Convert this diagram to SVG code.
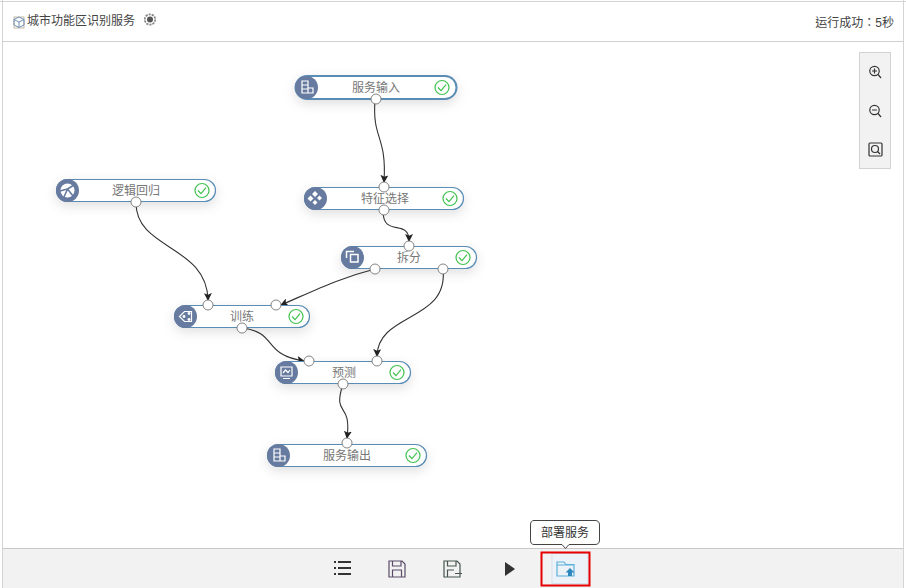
<svg xmlns="http://www.w3.org/2000/svg" width="906" height="588" viewBox="0 0 906 588">
<defs>
<filter id="sh" x="-20%" y="-60%" width="140%" height="260%"><feDropShadow dx="0" dy="4" stdDeviation="6" flood-color="#000" flood-opacity="0.12"/></filter>
<marker id="arr" markerWidth="8" markerHeight="8" refX="7" refY="4" orient="auto" markerUnits="userSpaceOnUse"><path d="M0 0L8 4L0 8L1.800 4Z" fill="#222"/></marker>
<g id="chk"><circle r="7" fill="#fff" stroke="#3fc24f" stroke-width="1.2"/><path d="M-4 0L-1 3.200L4 -2.800" fill="none" stroke="#3fc24f" stroke-width="1.200"/></g>
</defs>
<style>
text{font-family:"Liberation Sans","Noto Sans CJK SC",sans-serif}
.b{fill:#fff;stroke:#5a8db5;stroke-width:1.2;filter:url(#sh)}
.ic{fill:#667b9f}
.g{fill:none;stroke:#fff;stroke-width:1.2}
.gf{fill:#fff}
.l{font-size:12px;fill:#777;text-anchor:middle}
.p{fill:#fff;stroke:#777;stroke-width:.9}
.c{fill:none;stroke:#333;stroke-width:1.1;marker-end:url(#arr)}
.t{fill:none;stroke:#333;stroke-width:1.2}
</style>
<rect width="906" height="588" fill="#fff"/>
<path d="M0 1.500H906M2.500 0V588M903.500 0V588" fill="none" stroke="#d4d4d4"/>
<path d="M2 41.500H904" stroke="#d0d0d0"/>
<g id="header">
<rect x="14" y="17" width="10" height="11" fill="none" stroke="#b9a88f" stroke-width=".8"/>
<path d="M19 17L24 19.500V25L19 27.500L14 25V19.500ZM14 19.500L19 22L24 19.500M19 22V27.500" fill="none" stroke="#6d8fb8"/>
<text x="27" y="25" font-size="12" fill="#444">城市功能区识别服务</text>
<circle cx="150" cy="19.500" r="3" fill="#555"/><circle cx="150" cy="19.500" r="5.200" fill="none" stroke="#888" stroke-width="1.800" stroke-dasharray="2.200 1"/>
<text x="894" y="27" font-size="12" fill="#444" text-anchor="end" style="font-family:'Liberation Sans','Noto Sans CJK TC',sans-serif">运行成功：5秒</text>
</g>
<g id="zoom-tools">
<rect x="859.500" y="52.500" width="31" height="116" fill="#f2f2f2" stroke="#d2d2d2"/>
<g class="t"><circle cx="874.500" cy="71" r="4.700"/><path d="M878 74.500L881 78M872 71H877M874.500 68.500V73.500"/>
<circle cx="874.500" cy="110" r="4.700"/><path d="M878 113.500L881 117M872 110H877"/>
<rect x="869" y="143" width="13" height="13" rx="1"/><circle cx="875" cy="149" r="3.500"/><path d="M877.500 151.500L880 154"/></g>
</g>
<g id="connectors">
<path class="c" d="M375 100C372 140 387 135 384 182"/>
<path class="c" d="M383 211C383 238 409 218 409 241"/>
<path class="c" d="M136 203C136 250 207 245 208 300"/>
<path class="c" d="M375 269C340 278 320 288 281 305"/>
<path class="c" d="M443 269C449 322 378 312 377 356"/>
<path class="c" d="M242 328C278 332 262 355 304 361"/>
<path class="c" d="M343 384C332 418 352 400 347 438"/>
</g>
<g id="n1"><rect class="b" x="295.500" y="76" width="161" height="23" rx="11.500" style="stroke-width:2"/><circle class="ic" cx="306.500" cy="87.500" r="11.500"/><path class="g" d="M302 81H308V93H302ZM302 85H308M302 89H308M308 88H313V93H308"/><text class="l" x="376" y="92">服务输入</text><use href="#chk" x="442" y="87.500"/><circle class="p" cx="376" cy="99" r="5"/></g>
<g id="n2"><rect class="b" x="304.500" y="187.500" width="159" height="22" rx="11"/><circle class="ic" cx="315.500" cy="198.500" r="11.500"/><path class="gf" d="M315 191l3 3-3 3-3-3zM310.500 195.500l3 3-3 3-3-3zM319.500 195.500l2.500 2.500-2.500 2.500-2.500-2.500zM315 200l2.500 2.500-2.500 2.500-2.500-2.500z"/><text class="l" x="385" y="203">特征选择</text><use href="#chk" x="450" y="198.500"/><circle class="p" cx="384" cy="187" r="5"/><circle class="p" cx="384" cy="210" r="5"/></g>
<g id="n3"><rect class="b" x="341.500" y="246.500" width="135" height="22" rx="11"/><circle class="ic" cx="352.500" cy="257.500" r="11.500"/><path class="g" d="M346.500 258V251.500H354M346.500 251.500H354M350.500 254.500H358V262H350.500Z" style="stroke-width:1.500"/><text class="l" x="409" y="262">拆分</text><use href="#chk" x="463" y="257.500"/><circle class="p" cx="409" cy="246" r="5"/><circle class="p" cx="375" cy="269" r="5"/><circle class="p" cx="443" cy="269" r="5"/></g>
<g id="n4"><rect class="b" x="56.500" y="179.500" width="159" height="22" rx="11"/><circle class="ic" cx="67.500" cy="190.500" r="11.500"/><circle cx="67.500" cy="190.500" r="7" class="gf"/><path d="M60 191L67.500 189L64 197M67.500 189L74 185M67.500 189L73 196" fill="none" stroke="#667b9f" stroke-width="1.600"/><text class="l" x="136" y="194.500">逻辑回归</text><use href="#chk" x="202" y="190.500"/><circle class="p" cx="136" cy="202" r="5"/></g>
<g id="n5"><rect class="b" x="174.500" y="305.500" width="135" height="22" rx="11"/><circle class="ic" cx="185.500" cy="316.500" r="11.500"/><path class="g" d="M179.500 316.500l5-5h7v10h-7z"/><circle cx="184" cy="316.500" r="1.400" class="gf"/><circle cx="189" cy="313.500" r="1.400" class="gf"/><circle cx="189" cy="319.500" r="1.400" class="gf"/><text class="l" x="242" y="321">训练</text><use href="#chk" x="296" y="316.500"/><circle class="p" cx="208" cy="305" r="5"/><circle class="p" cx="276" cy="305" r="5"/><circle class="p" cx="242" cy="328" r="5"/></g>
<g id="n6"><rect class="b" x="275.500" y="361.500" width="135" height="22" rx="11"/><circle class="ic" cx="286.500" cy="372.500" r="11.500"/><path class="g" d="M281 367H292V376H281ZM283 373L285.500 370L288 372.500L290 370M283 378.500H290"/><text class="l" x="344" y="377">预测</text><use href="#chk" x="397" y="372.500"/><circle class="p" cx="309" cy="361" r="5"/><circle class="p" cx="377" cy="361" r="5"/><circle class="p" cx="343" cy="384" r="5"/></g>
<g id="n7"><rect class="b" x="267.500" y="444.500" width="159" height="22" rx="11"/><circle class="ic" cx="278.500" cy="455.500" r="11.500"/><path class="g" d="M274 449H280V461H274ZM274 453H280M274 457H280M280 456H285V461H280"/><text class="l" x="347" y="460">服务输出</text><use href="#chk" x="413" y="455.500"/><circle class="p" cx="347" cy="443" r="5"/></g>
<g id="toolbar">
<rect x="3" y="548" width="900" height="40" fill="#f2f2f2"/>
<path d="M3 548.500H903" stroke="#c8c8c8"/>
<path d="M334 562h2M338 562h13M334 568h2M338 568h13M334 574h2M338 574h13" stroke="#333" stroke-width="2" fill="none"/>
<path d="M389 561H402L405 564V577H389ZM392.500 561V566H401V561M392.500 577V570H401.500V577" fill="none" stroke="#5a4a68" stroke-width="1.200"/>
<path d="M444 561H457L460 564V577H444ZM447.500 561V566H456V561M447.500 577V570H454M455 573.500H462" fill="none" stroke="#46564e" stroke-width="1.200"/>
<path d="M505 562L515 569L505 576Z" fill="#333"/>
<rect x="552" y="553.500" width="36" height="30" fill="#edf2f8" stroke="#d5e0ee"/>
<path d="M557 576V562H564L566 564.500H574V576Z" fill="none" stroke="#5ab0dc" stroke-width="1.200"/><path d="M557 565H574" stroke="#5ab0dc"/><path d="M570 568L574.500 572.500H572V576H568V572.500H565.500Z" fill="#2f88bd"/>
<rect x="541.500" y="552.500" width="48" height="33" fill="none" stroke="#e60000" stroke-width="2"/>
</g>
<g id="tooltip">
<path d="M534 520.500H595Q599.500 520.500 599.500 525V540Q599.500 544.500 595 544.500H569L565.500 548.500L562 544.500H534Q530.500 544.500 530.500 540V525Q530.500 520.500 534 520.500Z" fill="#fff" stroke="#444"/>
<text x="565" y="537" font-size="12" fill="#333" text-anchor="middle">部署服务</text>
</g>
</svg>
